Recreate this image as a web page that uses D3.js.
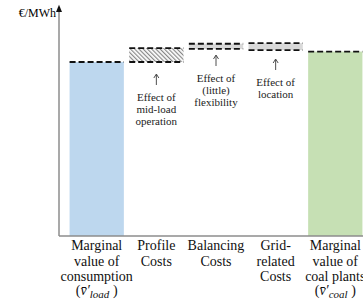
<!DOCTYPE html>
<html>
<head>
<meta charset="utf-8">
<script src="https://cdn.jsdelivr.net/npm/d3@7"></script>
<style>
  body { margin: 0; background: #fff; }
</style>
</head>
<body>
<div id="chart"></div>
<script>
// data (arbitrary €/MWh units)
var categories = ["load", "profile", "balancing", "grid", "coal"];
var labelLines = [
    ["Marginal", "value of", "consumption"],
    ["Profile", "Costs"],
    ["Balancing", "Costs"],
    ["Grid-", "related", "Costs"],
    ["Marginal", "value of", "coal plants"]
];
var subLabels = ["load", null, null, null, "coal"];
var lowValues = [0, 60, 64.5, 64.1, 0];
var highValues = [60, 64.8, 66.3, 66.5, 63.6];
var fills = ["blue", "hatch", "gray", "gray", "green"];
var notes = [
    null,
    ["Effect of", "mid-load", "operation"],
    ["Effect of", "(little)", "flexibility"],
    ["Effect of", "location"],
    null
];

var width = 363, height = 300;
var x0 = 59, yBase = 236;
var serif = "Liberation Serif";

var svg = d3.select("#chart").append("svg")
    .attr("width", width)
    .attr("height", height);

// hatch pattern for profile costs
var defs = svg.append("defs");
defs.append("pattern")
    .attr("id", "hatch")
    .attr("patternUnits", "userSpaceOnUse")
    .attr("width", 3)
    .attr("height", 3)
    .attr("patternTransform", "rotate(-45)")
    .append("rect")
    .attr("width", 1.2)
    .attr("height", 3)
    .attr("fill", "#888");

var colorMap = { blue: "#bdd7ee", green: "#c6e0b4", gray: "#d9d9d9", hatch: "url(#hatch)" };

var x = d3.scaleBand().domain(categories).range([66, 366]).paddingInner(0.09).paddingOuter(0.06);
var y = d3.scaleLinear().domain([0, 80]).range([yBase, 4]);

var data = categories.map((c, i) => ({ cat: c, lo: lowValues[i], hi: highValues[i], fill: fills[i] }));

// bars / segments
svg.selectAll(".seg")
    .data(data)
    .enter().append("rect")
    .attr("class", "seg")
    .attr("x", d => x(d.cat))
    .attr("width", x.bandwidth())
    .attr("y", d => y(d.hi))
    .attr("height", d => y(d.lo) - y(d.hi))
    .attr("fill", d => colorMap[d.fill]);

// dashed level lines
var levels = [];
data.forEach(d => {
    levels.push({ cat: d.cat, v: d.hi });
    if (d.lo > 0) levels.push({ cat: d.cat, v: d.lo });
});
svg.selectAll(".level")
    .data(levels)
    .enter().append("line")
    .attr("class", "level")
    .attr("x1", d => x(d.cat))
    .attr("x2", d => x(d.cat) + x.bandwidth())
    .attr("y1", d => y(d.v))
    .attr("y2", d => y(d.v))
    .attr("stroke", "#111")
    .attr("stroke-width", 1.8)
    .attr("stroke-dasharray", "6,3");

// axes
svg.append("line")
    .attr("x1", x0).attr("x2", width)
    .attr("y1", yBase).attr("y2", yBase)
    .attr("stroke", "#8c8c8c").attr("stroke-width", 1.5);
svg.append("line")
    .attr("x1", x0).attr("x2", x0)
    .attr("y1", yBase).attr("y2", y(78))
    .attr("stroke", "#8c8c8c").attr("stroke-width", 1.5);
svg.append("path")
    .attr("d", d3.line()([[x0 - 3, y(77.2)], [x0, y(79.7)], [x0 + 3, y(77.2)]]))
    .attr("fill", "#111");

svg.append("text")
    .attr("x", 56)
    .attr("y", 17)
    .attr("text-anchor", "end")
    .style("font-family", serif)
    .style("font-size", "12px")
    .text("€/MWh");

// annotations with arrows
var noteTop = [null, 74, 55, 59];
data.forEach((d, i) => {
    if (!notes[i]) return;
    var cx = x(d.cat) + x.bandwidth() / 2;
    var top = noteTop[i];
    svg.append("line")
        .attr("x1", cx).attr("x2", cx)
        .attr("y1", top + 1).attr("y2", top + 11)
        .attr("stroke", "#222").attr("stroke-width", 0.8);
    svg.append("path")
        .attr("d", d3.line()([[cx - 2.5, top + 4], [cx, top], [cx + 2.5, top + 4]]))
        .attr("fill", "none").attr("stroke", "#222").attr("stroke-width", 0.8);
    var t = svg.append("text")
        .attr("text-anchor", "middle")
        .style("font-family", serif)
        .style("font-size", "11px")
        .attr("fill", "#222");
    notes[i].forEach((s, k) => {
        t.append("tspan").attr("x", cx).attr("y", top + 27 + k * 12).text(s);
    });
});

// category labels
data.forEach((d, i) => {
    var cx = x(d.cat) + x.bandwidth() / 2;
    var t = svg.append("text")
        .attr("text-anchor", "middle")
        .style("font-family", serif)
        .style("font-size", "14px")
        .attr("fill", "#111");
    labelLines[i].forEach((s, k) => {
        t.append("tspan").attr("x", cx).attr("y", 250 + k * 15.5).text(s);
    });
    if (subLabels[i]) {
        var st = svg.append("text")
            .attr("text-anchor", "middle")
            .style("font-family", serif)
            .style("font-size", "14px")
            .attr("fill", "#111")
            .attr("x", cx)
            .attr("y", 295);
        st.append("tspan").text("(");
        st.append("tspan").style("font-style", "italic").text("v\u0304\u2032");
        st.append("tspan").style("font-style", "italic").style("font-size", "11px").attr("dy", 3).text(subLabels[i]);
        st.append("tspan").attr("dy", -3).text(" )");
    }
});
</script>
</body>
</html>
